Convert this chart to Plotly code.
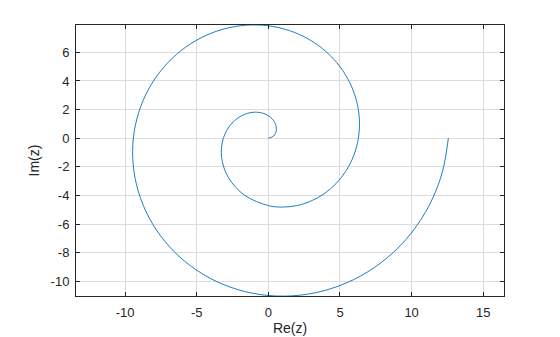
import plotly.graph_objects as go

# Points read along the spiral (Re, Im)
re_z = [0, 0.3628, 0.5554, 0.4508, 0, -0.7514, -1.6661, -2.5397, -3.1416,
        -3.2653, -2.7768, -1.6532, 0,
        0.9577, 1.9537, 2.9454, 3.8875, 4.7345, 5.4422, 5.9699, 6.2832,
        6.3551, 6.1678, 5.7141, 4.9982, 4.0362, 2.8555, 1.4939, 0,
        -1.5705, -3.1560, -4.6907, -6.1089, -7.3467, -8.3448, -9.0511, -9.4248,
        -9.4363, -9.0704, -8.3262, -7.2197, -5.7815, -4.0577, -2.1068, 0,
        2.1834, 4.3583, 6.4364, 8.3304, 9.9591, 11.2473, 12.1325, 12.5664]
im_z = [0, 0.1503, 0.5554, 1.0884, 1.5708, 1.8141, 1.6661, 1.0520, 0,
        -1.3525, -2.7768, -3.9910, -4.7124,
        -4.8144, -4.7166, -4.4080, -3.8875, -3.1635, -2.2543, -1.1875, 0,
        1.2641, 2.5548, 3.8180, 4.9982, 6.0406, 6.8935, 7.5105, 7.8540,
        7.8957, 7.6191, 7.0201, 6.1089, 4.9089, 3.4566, 1.8004, 0,
        -1.8770, -3.7571, -5.5634, -7.2197, -8.6527, -9.7962, -10.5918, -10.9956,
        -10.9769, -10.5218, -9.6326, -8.3304, -6.6546, -4.6588, -2.4134, 0]

x_ticks = [-10, -5, 0, 5, 10, 15]
y_ticks = [-10, -8, -6, -4, -2, 0, 2, 4, 6]

FONT = "Liberation Sans, Arial"
TXT = "#262626"

fig = go.Figure()
fig.add_trace(go.Scatter(x=re_z, y=im_z, mode="lines",
                         line=dict(color="#0072BD", width=0.9, shape="spline", smoothing=1.0),
                         hoverinfo="skip"))

axis_common = dict(showgrid=True, gridcolor="#dcdcdc", gridwidth=1,
                   showline=True, linecolor=TXT, linewidth=1, mirror="ticks",
                   ticks="inside", ticklen=4, tickcolor=TXT, tickwidth=1,
                   zeroline=False, automargin=False,
                   tickfont=dict(family=FONT, size=13, color=TXT))

fig.update_layout(
    width=560, height=337,
    margin=dict(l=75.5, r=55.7, t=25, b=40.7),
    paper_bgcolor="white", plot_bgcolor="white",
    showlegend=False,
    xaxis=dict(range=[-13.43, 16.45], tickvals=x_ticks, ticktext=[str(v) for v in x_ticks],
               ticklabelstandoff=4,
               title=dict(text="Re(z)", font=dict(family=FONT, size=14, color=TXT), standoff=4),
               **axis_common),
    yaxis=dict(range=[-11.03, 7.91], tickvals=y_ticks, ticktext=[str(v) for v in y_ticks],
               ticklabelstandoff=3,
               title=dict(text="Im(z)", font=dict(family=FONT, size=14, color=TXT), standoff=7),
               **axis_common),
)

fig.write_html("out.html")
